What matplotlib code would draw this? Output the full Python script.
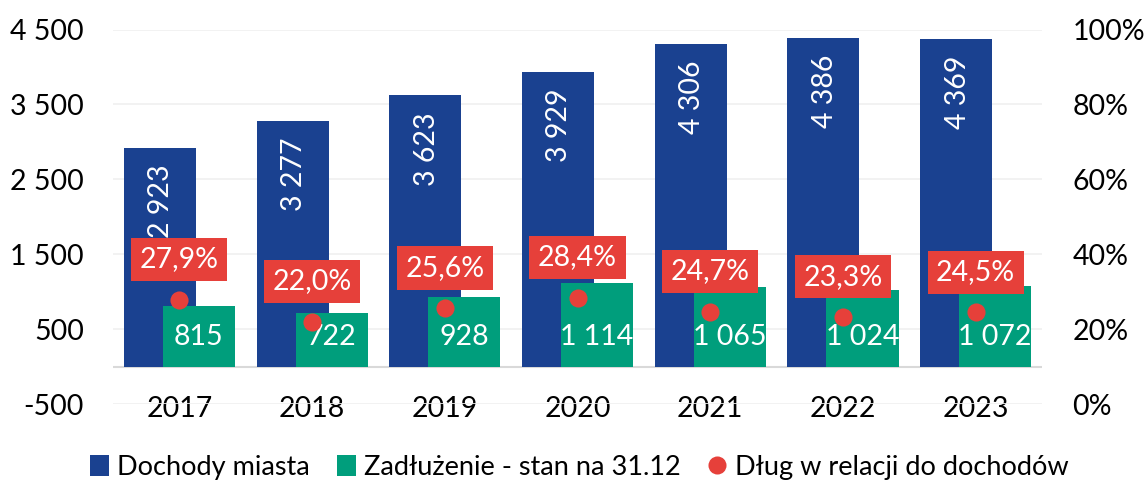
import matplotlib
matplotlib.use("Agg")
import matplotlib.pyplot as plt
from matplotlib.lines import Line2D
from matplotlib.patches import Patch
import numpy as np

years = ["2017", "2018", "2019", "2020", "2021", "2022", "2023"]
dochody = [2923, 3277, 3623, 3929, 4306, 4386, 4369]
zadluzenie = [815, 722, 928, 1114, 1065, 1024, 1072]
relacja = [27.9, 22.0, 25.6, 28.4, 24.7, 23.3, 24.5]
left_ticks = [-500, 500, 1500, 2500, 3500, 4500]
right_ticks = [0, 20, 40, 60, 80, 100]

BLUE = "#1A4190"
GREEN = "#009E7C"
RED = "#E6403A"
FONT = "Lato"
FS = 20.5

plt.rcParams['font.family'] = [FONT, 'DejaVu Sans']

def fmt(v):
    return f"{v:,}".replace(",", " ")

fig = plt.figure(figsize=(11.47, 4.84), dpi=100)
ax = fig.add_axes([0.0985, 0.165, 0.81, 0.774])
ax2 = ax.twinx()

x = np.arange(len(years))
w = 0.543
off = 0.147

ax.bar(x - off, dochody, w, color=BLUE, zorder=2)
ax.bar(x + off, zadluzenie, w, color=GREEN, zorder=3)

for xi, v in zip(x, dochody):
    ax.annotate(fmt(v), (xi - off + 0.01, v), xytext=(0, -12), textcoords="offset points",
                rotation=90, ha="center", va="top", color="white", fontsize=FS, zorder=4)
for xi, v in zip(x, zadluzenie):
    ax.text(xi + off, 400, fmt(v), ha="center", va="center", color="white",
            fontsize=FS, zorder=4)

ax.set_xlim(-0.5, len(years) - 0.5)
ax.set_ylim(-500, 4500)
ax.set_yticks(left_ticks)
ax.set_yticklabels([fmt(t) for t in left_ticks])
ax.grid(axis="y", color="#F0F0F0", linewidth=1.2, zorder=0)
ax.axhline(0, color="#D9D9D9", linewidth=1.5, zorder=1)
ax.set_xticks(x)
ax.set_xticklabels(years)
for s in ax.spines.values():
    s.set_visible(False)
for s in ax2.spines.values():
    s.set_visible(False)
ax.tick_params(axis="both", length=0, labelsize=FS)
ax.tick_params(axis="x", pad=-6)
ax.tick_params(axis="y", pad=21)

ax2.set_ylim(0, 100)
ax2.set_yticks(right_ticks)
ax2.set_yticklabels([f"{t}%" for t in right_ticks])
ax2.tick_params(axis="y", length=0, labelsize=FS, pad=22)

ax2.scatter(x, relacja, s=170, color=RED, zorder=5, linewidths=0)
for xi, v in zip(x, relacja):
    ax2.annotate(f"{v:.1f}%".replace(".", ","), (xi, v), xytext=(0, 29),
                 textcoords="offset points", ha="center", va="center",
                 color="white", fontsize=FS, zorder=6,
                 bbox=dict(boxstyle="square,pad=0.3", facecolor=RED, edgecolor="none"))

handles = [Patch(facecolor=BLUE, edgecolor="none"),
           Patch(facecolor=GREEN, edgecolor="none"),
           Line2D([], [], marker="o", linestyle="none", markersize=13,
                  markerfacecolor=RED, markeredgecolor="none")]
labels = ["Dochody miasta", "Zadłużenie - stan na 31.12", "Dług w relacji do dochodów"]
fig.legend(handles, labels, loc="center", bbox_to_anchor=(0.505, 0.035), ncol=3,
           frameon=False, fontsize=19.5, handlelength=0.7, handleheight=0.8,
           handletextpad=0.3, columnspacing=1.0)

fig.savefig("out.png", dpi=100)
